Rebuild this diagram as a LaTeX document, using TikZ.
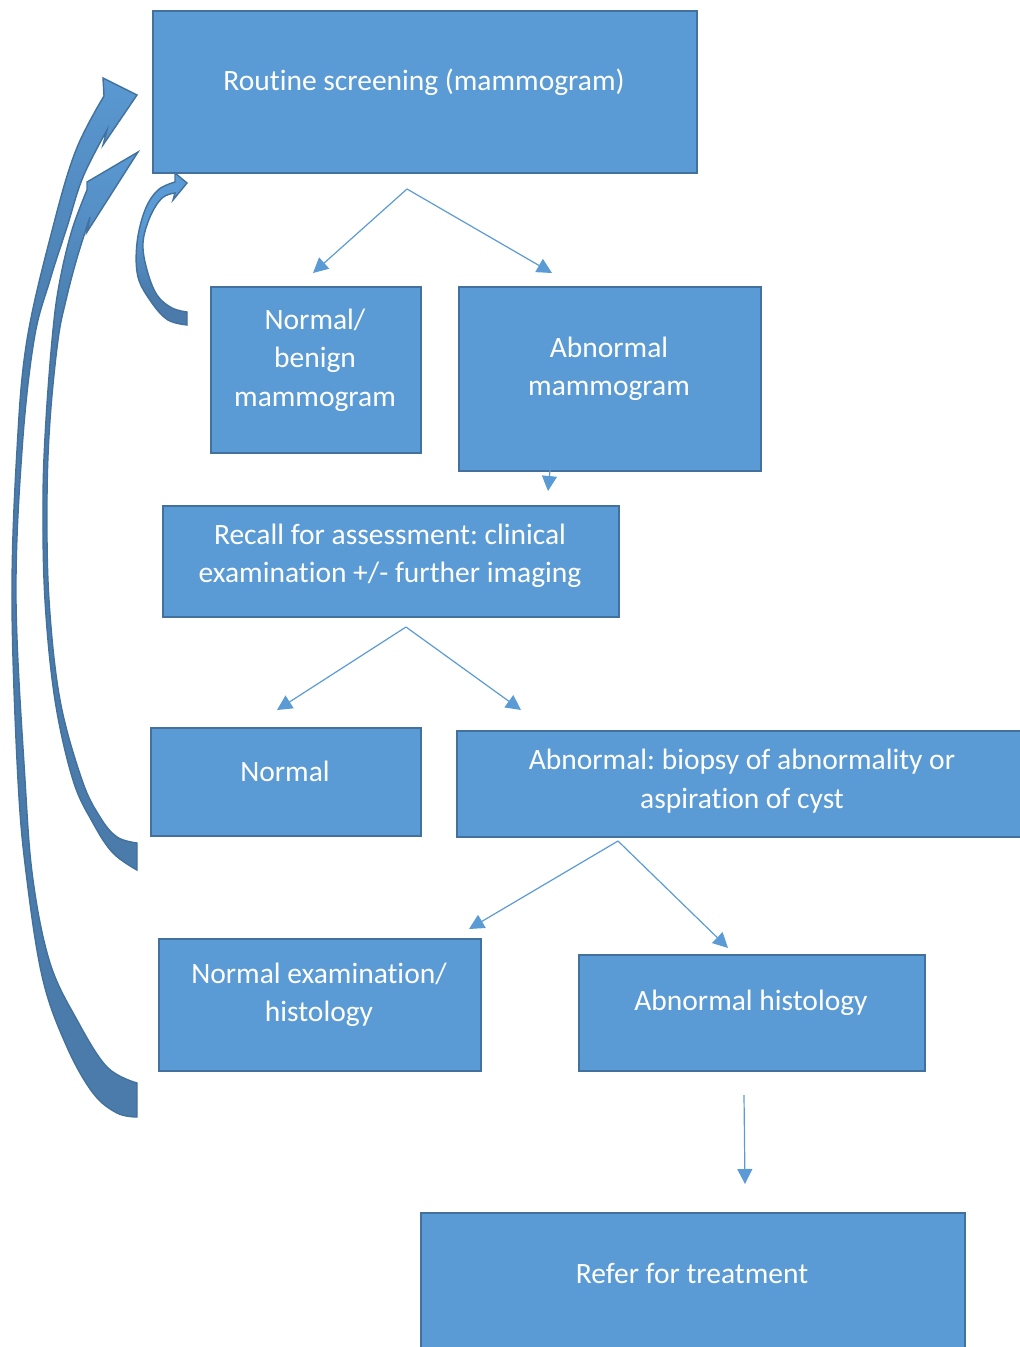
\documentclass[tikz,border=0pt]{standalone}
\usepackage{fontspec}
\setmainfont{Carlito}[Ligatures=NoCommon]
\usetikzlibrary{arrows.meta}
\definecolor{boxfill}{HTML}{5B9BD5}
\definecolor{boxline}{HTML}{41719C}
\definecolor{ribbondark}{HTML}{4A7BAB}
% ribbon faces: light near the head, darker along the returning band
\pgfdeclareverticalshading{longribbon}{100bp}{color(0bp)=(ribbondark); color(62bp)=(ribbondark); color(76bp)=(boxfill); color(100bp)=(boxfill)}
\pgfdeclareverticalshading{shortribbon}{100bp}{color(0bp)=(ribbondark); color(35bp)=(ribbondark); color(60bp)=(boxfill); color(100bp)=(boxfill)}
\frenchspacing
\begin{document}
\begin{tikzpicture}[x=1pt,y=-1pt,
  box/.style={draw=boxline,fill=boxfill,line width=1.8pt,rectangle,inner sep=0pt,anchor=north west},
  label/.style={text=white,align=center,font=\fontsize{29.5}{38.5}\selectfont,inner sep=0pt},
  thin/.style={draw=boxfill,line width=1.2pt,-{Triangle[length=15pt,width=15pt]}},
  ribbon/.style={draw=boxline,line width=1.4pt,line join=miter,shading=#1},
  ribbon/.default=longribbon]
\useasboundingbox (0,0) rectangle (1020,1347);
\clip (0,0) rectangle (1020,1347);

% boxes
\node[box,minimum width=544pt,minimum height=162pt] (b1) at (152,10) {};
\node[box,minimum width=210pt,minimum height=166pt] (b2) at (210,286) {};
\node[box,minimum width=302pt,minimum height=184pt] (b3) at (458,286) {};
\node[box,minimum width=456pt,minimum height=111pt] (b4) at (162,505) {};
\node[box,minimum width=270pt,minimum height=108pt] (b5) at (150,727) {};
\node[box,minimum width=580pt,minimum height=106pt] (b6) at (456,730) {};
\node[box,minimum width=322pt,minimum height=132pt] (b7) at (158,938) {};
\node[box,minimum width=346pt,minimum height=116pt] (b8) at (578,954) {};
\node[box,minimum width=544pt,minimum height=160pt] (b9) at (420,1212) {};

% texts
\node[label] (t1) at (424,82) {Routine screening (mammogram)};
\node[label] (t2) at (315,360) {Normal/\\benign\\mammogram};
\node[label] (t3) at (609,369) {Abnormal\\mammogram};
\node[label] (t4) at (390,556) {Recall for assessment: clinical\\examination +/- further imaging};
\node[label] (t5) at (285,771) {Normal};
\node[label] (t6) at (742,781) {Abnormal: biopsy of abnormality or\\aspiration of cyst};
\node[label] (t7) at (319,995) {Normal examination/\\histology};
\node[label] (t8) at (751,1003) {Abnormal histology};
\node[label] (t9) at (692,1273) {Refer for treatment};

% branching connectors
\coordinate (s1) at (407,189);
\coordinate (e1a) at (313,273);
\coordinate (e1b) at (552,273);
\coordinate (s2) at (550,470);
\coordinate (e2) at (548,491);
\coordinate (s3) at (406,627);
\coordinate (e3a) at (277,710);
\coordinate (e3b) at (521,710);
\coordinate (s4) at (618,841);
\coordinate (e4a) at (469,929);
\coordinate (e4b) at (728,948);
\coordinate (s5) at (744,1095);
\coordinate (e5) at (745,1184);
\draw[thin] (s1) -- (e1a);
\draw[thin] (s1) -- (e1b);
\draw[thin] (s2) -- (e2);
\draw[thin] (s3) -- (e3a);
\draw[thin] (s3) -- (e3b);
\draw[thin] (s4) -- (e4a);
\draw[thin] (s4) -- (e4b);
\draw[thin] (s5) -- (e5);

% long return arrow
\path[ribbon] plot[smooth,tension=0.6] coordinates {(137,1117) (117,1113) (93,1093) (67,1047) (43,980) (27,880) (18,780) (12,600) (17,450) (27,340) (53,227) (76,150) (104,96)}
  -- (103,78) -- (137,95) -- (103,145) -- (107,130)
  -- plot[smooth,tension=0.6] coordinates {(107,130) (83,177) (67,227) (50,280) (34,340) (22,450) (16,600) (25,780) (33,880) (50,963) (77,1020) (107,1067) (137,1083)}
  -- cycle;

% medium return arrow
\path[ribbon] plot[smooth,tension=0.6] coordinates {(137,870) (113,853) (93,823) (73,780) (55,700) (45,600) (43,500) (46,420) (53,330) (60,280) (72,230) (87,190)}
  -- (87,182) -- (138,152) -- (87,232) -- (90,217)
  -- plot[smooth,tension=0.6] coordinates {(90,217) (77,258) (66,300) (58,340) (50,420) (47,500) (49,600) (60,700) (82,780) (100,817) (117,837) (137,843)}
  -- cycle;

% short return arrow
\path[ribbon=shortribbon] plot[smooth,tension=0.6] coordinates {(187,325) (168,320) (152,303) (138,277) (137,243) (145,210) (158,190) (175,182)}
  -- (175,173) -- (187,183) -- (173,200) -- (175,193)
  -- plot[smooth,tension=0.6] coordinates {(175,193) (162,198) (150,217) (143,243) (147,270) (157,295) (172,308) (187,312)}
  -- cycle;
\end{tikzpicture}
\end{document}
